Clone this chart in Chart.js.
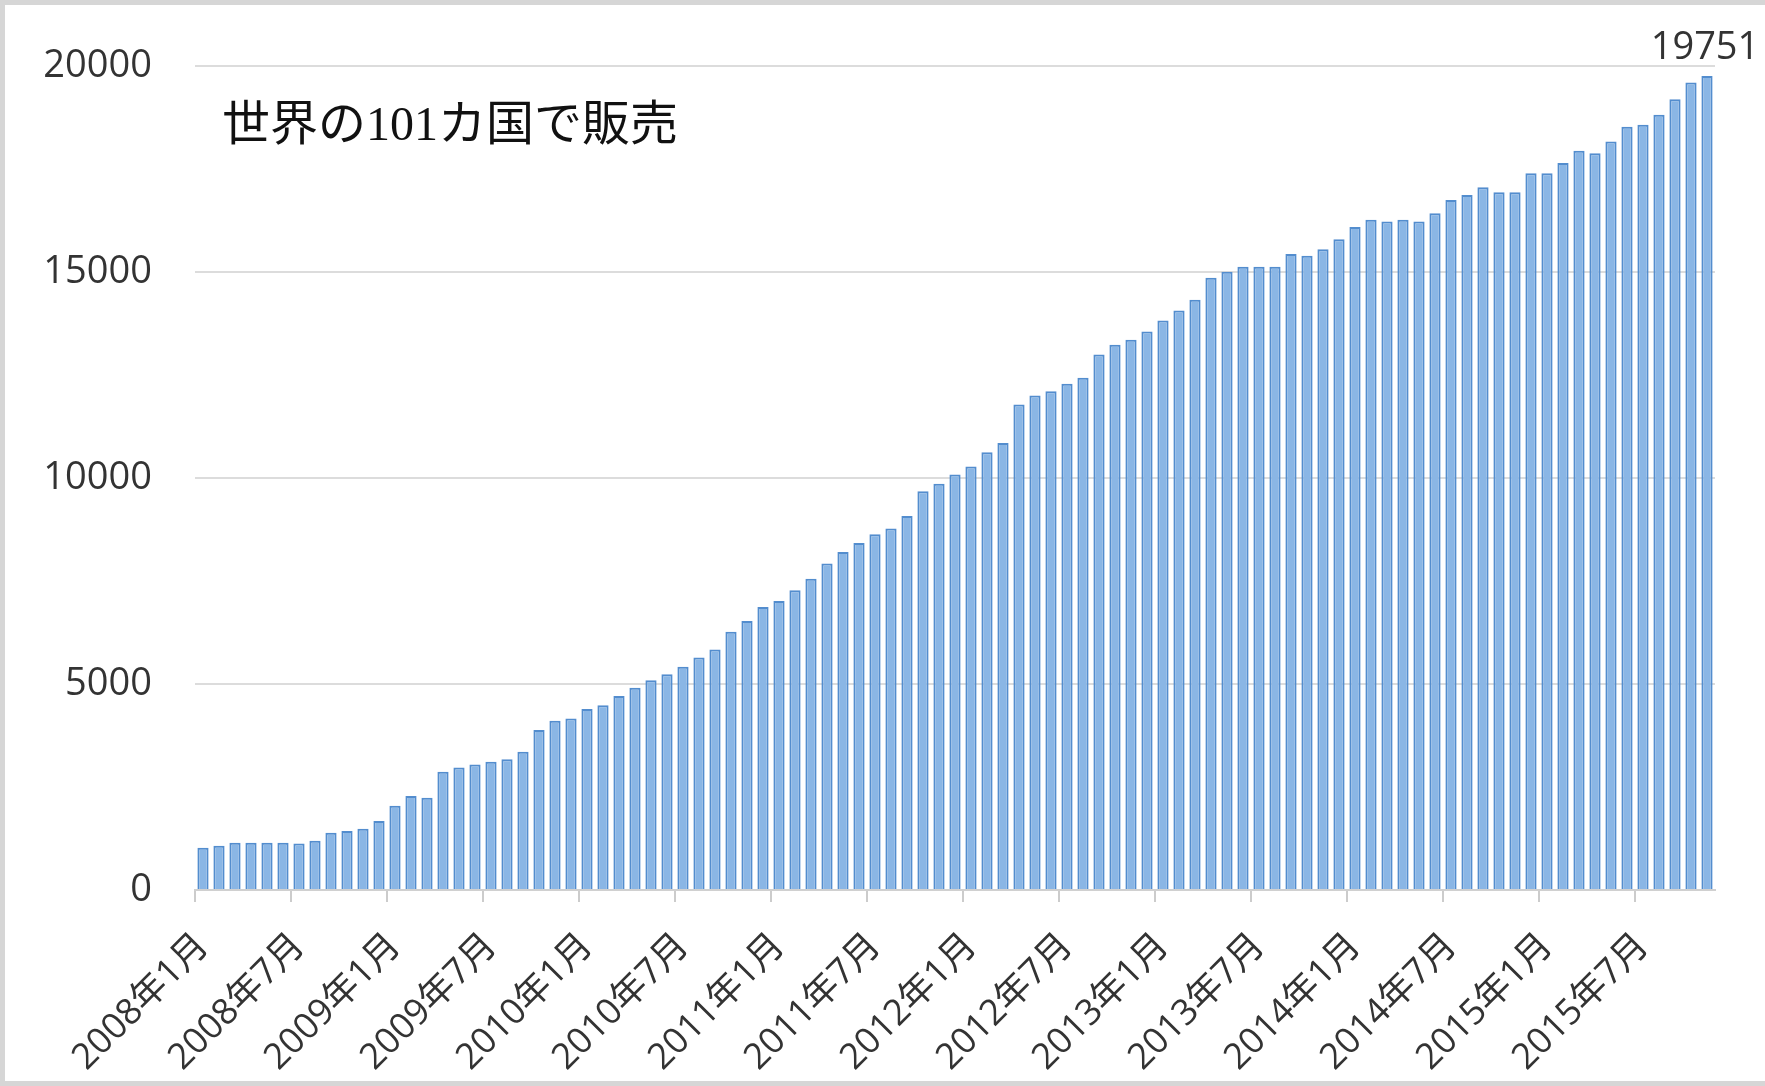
<!DOCTYPE html>
<html lang="ja">
<head>
<meta charset="utf-8">
<title>世界の101カ国で販売</title>
<script src="https://cdn.jsdelivr.net/npm/chart.js@4.4.1/dist/chart.umd.min.js"></script>
<style>
  html, body { margin: 0; padding: 0; background: #fff; }
  #wrap { position: relative; width: 1765px; height: 1086px; overflow: hidden; }
  #frame {
    position: absolute; left: 0; top: 0; width: 1765px; height: 1086px;
    box-sizing: border-box; border: 5px solid #d6d6d6; border-right: none;
    pointer-events: none;
  }
  #note {
    position: absolute; left: 222px; top: 94px;
    font: 48px 'Liberation Serif', 'Noto Sans CJK JP', serif;
    color: #111; white-space: nowrap; line-height: 60px;
  }
</style>
</head>
<body>
<div id="wrap">
  <canvas id="chart" width="1765" height="1086"></canvas>
  <div id="note">世界の101カ国で販売</div>
  <div id="frame"></div>
</div>
<script>
// 月ごとの販売数（2008年1月〜2015年11月）
const years = [2008, 2009, 2010, 2011, 2012, 2013, 2014, 2015];
const lastMonth = 11; // 2015年は11月まで

const months = [];
for (const y of years) {
    for (let m = 1; m <= 12; m++) {
        if (y === 2015 && m > lastMonth) break;
        months.push(y + '年' + m + '月');
    }
}

const sales2008 = [1025, 1075, 1145, 1145, 1145, 1145, 1130, 1195, 1390, 1430, 1485, 1675];
const sales2009 = [2045, 2280, 2240, 2870, 2975, 3045, 3110, 3170, 3355, 3880, 4105, 4160];
const sales2010 = [4390, 4485, 4710, 4905, 5090, 5235, 5415, 5640, 5835, 6265, 6530, 6870];
const sales2011 = [7015, 7275, 7555, 7920, 8200, 8420, 8630, 8770, 9075, 9675, 9860, 10085];
const sales2012 = [10275, 10620, 10845, 11780, 12000, 12105, 12285, 12430, 12995, 13230, 13350, 13550];
const sales2013 = [13820, 14060, 14320, 14855, 15005, 15125, 15125, 15125, 15435, 15390, 15550, 15790];
const sales2014 = [16090, 16265, 16220, 16265, 16220, 16420, 16745, 16865, 17050, 16930, 16930, 17390];
const sales2015 = [17390, 17640, 17940, 17875, 18165, 18520, 18570, 18810, 19190, 19595, 19751];

const sales = [].concat(sales2008, sales2009, sales2010, sales2011, sales2012, sales2013, sales2014, sales2015);

const yTicks = [0, 5000, 10000, 15000, 20000];

const fontFamily = "'Open Sans', 'Noto Sans CJK JP', sans-serif";
const textColor = '#333333';

// 最後の棒の上に数値を表示
const lastValuePlugin = {
    id: 'lastValue',
    afterDatasetsDraw(chart) {
        const meta = chart.getDatasetMeta(0);
        const bar = meta.data[meta.data.length - 1];
        const ctx = chart.ctx;
        ctx.save();
        ctx.font = "38px 'Open Sans', sans-serif";
        ctx.fillStyle = textColor;
        ctx.textAlign = 'center';
        ctx.textBaseline = 'alphabetic';
        ctx.fillText(String(sales[sales.length - 1]), bar.x - 2, bar.y - 17);
        ctx.restore();
    }
};

const ctx = document.getElementById('chart').getContext('2d');

new Chart(ctx, {
    type: 'bar',
    data: {
        labels: months,
        datasets: [{
            label: '販売国数',
            data: sales,
            backgroundColor: '#8ab6e5',
            borderColor: '#538dce',
            borderWidth: 2,
            borderSkipped: 'start',
            categoryPercentage: 1.0,
            barPercentage: 0.7
        }]
    },
    options: {
        responsive: false,
        animation: false,
        layout: { padding: { top: 65, right: 50, bottom: 0, left: 0 } },
        plugins: {
            legend: { display: false },
            tooltip: { enabled: false }
        },
        scales: {
            x: {
                offset: true,
                grid: {
                    offset: true,
                    drawOnChartArea: false,
                    drawTicks: true,
                    tickLength: 12,
                    lineWidth: 2,
                    color: c => (c.index !== undefined && c.index % 6 === 0 ? '#cccccc' : 'rgba(0,0,0,0)')
                },
                border: { color: '#d0d0d0', width: 2 },
                ticks: {
                    autoSkip: false,
                    minRotation: 45,
                    maxRotation: 45,
                    padding: 23,
                    color: textColor,
                    font: { family: fontFamily, size: 36 },
                    callback: function (value, index) {
                        return index % 6 === 0 ? this.getLabelForValue(value) : '';
                    }
                },
                afterFit: s => { s.height = 196; }
            },
            y: {
                min: yTicks[0],
                max: yTicks[yTicks.length - 1],
                grid: { color: '#dcdcdc', lineWidth: 2, drawTicks: false },
                border: { display: false },
                ticks: {
                    stepSize: 5000,
                    padding: 43,
                    color: textColor,
                    font: { family: fontFamily, size: 38 },
                    callback: v => String(v)
                },
                afterFit: s => { s.width = 195; }
            }
        }
    },
    plugins: [lastValuePlugin]
});
</script>
</body>
</html>
